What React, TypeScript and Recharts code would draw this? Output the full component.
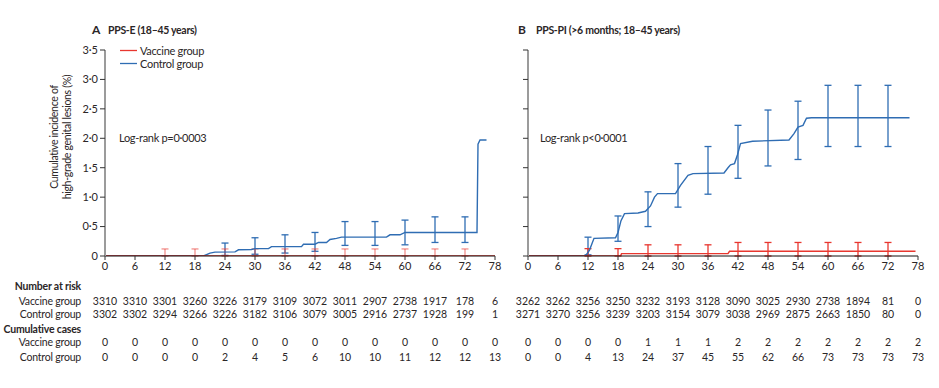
import { ComposedChart, Line, Scatter, ErrorBar, XAxis, YAxis } from 'recharts'

const monthTicks = [0, 6, 12, 18, 24, 30, 36, 42, 48, 54, 60, 66, 72, 78]
const yTicks = [0, 0.5, 1, 1.5, 2, 2.5, 3, 3.5]

const RED = '#e8372f'
const BLUE = '#2f6db3'
const INK = '#2b2627'

// Panel A curves (months, cumulative %)
const aVaccineCurve = [
  { m: 0, v: 0 },
  { m: 78, v: 0 },
]
const aControlCurve = [
  { m: 0, v: 0 }, { m: 19.7, v: 0 }, { m: 21, v: 0.05 }, { m: 22, v: 0.065 },
  { m: 26, v: 0.07 }, { m: 26.7, v: 0.105 }, { m: 29.3, v: 0.11 }, { m: 30, v: 0.125 },
  { m: 32.7, v: 0.125 }, { m: 33.3, v: 0.16 }, { m: 39.3, v: 0.16 }, { m: 39.7, v: 0.2 },
  { m: 42, v: 0.2 }, { m: 42.7, v: 0.23 }, { m: 44.3, v: 0.23 }, { m: 45, v: 0.28 },
  { m: 46.3, v: 0.3 }, { m: 47.3, v: 0.32 }, { m: 56.3, v: 0.32 }, { m: 57, v: 0.36 },
  { m: 59, v: 0.36 }, { m: 60, v: 0.4 }, { m: 74.4, v: 0.4 }, { m: 74.6, v: 1.9 },
  { m: 75, v: 1.97 }, { m: 76.3, v: 1.97 },
]

// Panel B curves
const bVaccineCurve = [
  { m: 0, v: 0 }, { m: 18.5, v: 0 }, { m: 18.7, v: 0.04 }, { m: 40, v: 0.04 },
  { m: 40.3, v: 0.08 }, { m: 77.5, v: 0.08 },
]
const bControlCurve = [
  { m: 0, v: 0 }, { m: 11.5, v: 0 }, { m: 12.3, v: 0.1 }, { m: 13.2, v: 0.3 },
  { m: 17.5, v: 0.31 }, { m: 18, v: 0.4 }, { m: 18.6, v: 0.6 }, { m: 19.3, v: 0.72 },
  { m: 22, v: 0.73 }, { m: 23.5, v: 0.76 }, { m: 24.5, v: 0.85 }, { m: 25.3, v: 1.0 },
  { m: 25.9, v: 1.06 }, { m: 29.5, v: 1.06 }, { m: 30.5, v: 1.2 }, { m: 32, v: 1.37 },
  { m: 33, v: 1.4 }, { m: 39.2, v: 1.41 }, { m: 40, v: 1.5 }, { m: 40.5, v: 1.55 },
  { m: 41.3, v: 1.57 }, { m: 41.9, v: 1.72 }, { m: 42.5, v: 1.91 }, { m: 44.9, v: 1.95 },
  { m: 52.2, v: 1.97 }, { m: 53.2, v: 2.08 }, { m: 54, v: 2.19 }, { m: 55, v: 2.22 },
  { m: 55.7, v: 2.34 }, { m: 56.7, v: 2.35 }, { m: 76.3, v: 2.35 },
]

// 95% CI bars
const aControlBarMonths = [24, 30, 36, 42, 48, 54, 60, 66, 72]
const aControlLo = [0.01, 0.03, 0.05, 0.08, 0.18, 0.18, 0.19, 0.23, 0.23]
const aControlHi = [0.22, 0.31, 0.36, 0.4, 0.585, 0.585, 0.61, 0.665, 0.665]
const aVaccineBarMonths = [12, 18, 24, 30, 36, 42, 48, 54, 60, 66, 72]
const aVaccineLo = [0, 0, 0, 0, 0, 0, 0, 0, 0, 0, 0]
const aVaccineHi = [0.12, 0.12, 0.12, 0.12, 0.12, 0.12, 0.12, 0.12, 0.12, 0.12, 0.12]

const bBarMonths = [12, 18, 24, 30, 36, 42, 48, 54, 60, 66, 72]
const bControlLo = [0.02, 0.25, 0.5, 0.83, 1.05, 1.32, 1.53, 1.64, 1.86, 1.86, 1.86]
const bControlHi = [0.32, 0.68, 1.09, 1.57, 1.86, 2.22, 2.48, 2.63, 2.9, 2.9, 2.9]
const bVaccineLo = [0, 0, 0, 0, 0, 0, 0, 0, 0, 0, 0]
const bVaccineHi = [0.125, 0.125, 0.19, 0.19, 0.19, 0.23, 0.23, 0.23, 0.23, 0.23, 0.23]

// Tables
const aRiskVaccine = [3310, 3310, 3301, 3260, 3226, 3179, 3109, 3072, 3011, 2907, 2738, 1917, 178, 6]
const aRiskControl = [3302, 3302, 3294, 3266, 3226, 3182, 3106, 3079, 3005, 2916, 2737, 1928, 199, 1]
const aCasesVaccine = [0, 0, 0, 0, 0, 0, 0, 0, 0, 0, 0, 0, 0, 0]
const aCasesControl = [0, 0, 0, 0, 2, 4, 5, 6, 10, 10, 11, 12, 12, 13]

const bRiskVaccine = [3262, 3262, 3256, 3250, 3232, 3193, 3128, 3090, 3025, 2930, 2738, 1894, 81, 0]
const bRiskControl = [3271, 3270, 3256, 3239, 3203, 3154, 3079, 3038, 2969, 2875, 2663, 1850, 80, 0]
const bCasesVaccine = [0, 0, 0, 0, 1, 1, 1, 2, 2, 2, 2, 2, 2, 2]
const bCasesControl = [0, 0, 4, 13, 24, 37, 45, 55, 62, 66, 73, 73, 73, 73]

const rowBaselines = [305, 318, 346, 361]

const toBars = (months: number[], lo: number[], hi: number[]) =>
  months.map((m, i) => ({ m, v: lo[i], err: [0, hi[i] - lo[i]] }))

const fmt = (v: number) => (v === 0 ? '0' : v.toFixed(1).replace('.', '·'))

function TableTick(props: any) {
  const { x, y, payload, rows } = props
  const i = monthTicks.indexOf(payload.value)
  return (
    <g fontFamily="Lato" fill={INK}>
      <text x={x} y={y} dy={8} textAnchor="middle" fontSize={11} fill={INK}>
        {payload.value}
      </text>
      {rows.map((r: number[], k: number) => (
        <text key={k} x={x} y={rowBaselines[k]} textAnchor="middle" fontSize={10.5} fill={INK}>
          {r[i]}
        </text>
      ))}
    </g>
  )
}

const Empty = () => <g />

interface PanelProps {
  left: number
  width: number
  yWidth: number
  showYLabels: boolean
  vaccine: { m: number; v: number }[]
  control: { m: number; v: number }[]
  vaccineBars: { m: number; v: number; err: number[] }[]
  controlBars: { m: number; v: number; err: number[] }[]
  rows: number[][]
  vaccineBarOpacity: number
}

function Panel(p: PanelProps) {
  return (
    <div style={{ position: 'absolute', left: p.left, top: 0 }}>
      <ComposedChart
        width={p.width}
        height={388}
        margin={{ top: 50, right: p.width - p.yWidth - 390, left: 0, bottom: 0 }}
      >
        <XAxis
          type="number"
          dataKey="m"
          domain={[0, 78]}
          ticks={monthTicks}
          interval={0}
          height={132}
          tickSize={4}
          tickMargin={2}
          axisLine={{ stroke: '#111', strokeWidth: 1 }}
          tickLine={{ stroke: '#333' }}
          tick={(t: any) => <TableTick {...t} rows={p.rows} />}
          allowDataOverflow
        />
        <YAxis
          type="number"
          domain={[0, 3.5]}
          ticks={yTicks}
          interval={0}
          width={p.yWidth}
          tickSize={5}
          tickMargin={2}
          axisLine={{ stroke: '#9b9b9b', strokeWidth: 2 }}
          tickLine={{ stroke: '#333' }}
          tick={{ fontSize: 11, fill: INK, fontFamily: 'Lato' }}
          tickFormatter={(v: number) => (p.showYLabels ? fmt(v) : '')}
          allowDataOverflow
        />
        <Scatter data={p.controlBars} dataKey="v" shape={Empty} isAnimationActive={false}>
          <ErrorBar dataKey="err" direction="y" width={3.5} stroke={BLUE} strokeWidth={1.3} />
        </Scatter>
        <Scatter data={p.vaccineBars} dataKey="v" shape={Empty} isAnimationActive={false}>
          <ErrorBar
            dataKey="err"
            direction="y"
            width={3.5}
            stroke={RED}
            strokeWidth={1.3}
            strokeOpacity={p.vaccineBarOpacity}
          />
        </Scatter>
        <Line
          data={p.control}
          dataKey="v"
          type="linear"
          stroke={BLUE}
          strokeWidth={1.4}
          dot={false}
          activeDot={false}
          isAnimationActive={false}
        />
        <Line
          data={p.vaccine}
          dataKey="v"
          type="linear"
          stroke={RED}
          strokeWidth={1.4}
          dot={false}
          activeDot={false}
          isAnimationActive={false}
        />
      </ComposedChart>
    </div>
  )
}

export default function App() {
  const txt = { fontFamily: 'Lato', fill: INK }
  return (
    <div
      style={{
        position: 'absolute',
        left: 0,
        top: 0,
        width: 939,
        height: 388,
        background: '#fff',
        fontFamily: 'Lato',
      }}
    >
      <Panel
        left={0}
        width={520}
        yWidth={105}
        showYLabels
        vaccine={aVaccineCurve}
        control={aControlCurve}
        vaccineBars={toBars(aVaccineBarMonths, aVaccineLo, aVaccineHi)}
        controlBars={toBars(aControlBarMonths, aControlLo, aControlHi)}
        rows={[aRiskVaccine, aRiskControl, aCasesVaccine, aCasesControl]}
        vaccineBarOpacity={0.55}
      />
      <Panel
        left={440}
        width={499}
        yWidth={88}
        showYLabels={false}
        vaccine={bVaccineCurve}
        control={bControlCurve}
        vaccineBars={toBars(bBarMonths, bVaccineLo, bVaccineHi)}
        controlBars={toBars(bBarMonths, bControlLo, bControlHi)}
        rows={[bRiskVaccine, bRiskControl, bCasesVaccine, bCasesControl]}
        vaccineBarOpacity={1}
      />
      <svg
        width={939}
        height={388}
        style={{ position: 'absolute', left: 0, top: 0, pointerEvents: 'none' }}
      >
        <g {...txt}>
          <text x={92} y={34} fontSize={12} fontWeight={700}>A</text>
          <text x={108} y={34} fontSize={10.5} fontWeight={700} letterSpacing={-0.3}>
            PPS-E (18–45 years)
          </text>
          <text x={518} y={34} fontSize={12} fontWeight={700}>B</text>
          <text x={536} y={34} fontSize={10.5} fontWeight={700} letterSpacing={-0.3}>
            PPS-PI (&gt;6 months; 18–45 years)
          </text>

          <line x1={120} x2={137} y1={50.5} y2={50.5} stroke={RED} strokeWidth={1.3} />
          <line x1={120} x2={137} y1={63.5} y2={63.5} stroke={BLUE} strokeWidth={1.3} />
          <text x={140} y={54.5} fontSize={11} letterSpacing={-0.3}>Vaccine group</text>
          <text x={140} y={67.5} fontSize={11} letterSpacing={-0.3}>Control group</text>

          <text x={119} y={142} fontSize={11} letterSpacing={-0.3}>Log-rank p=0·0003</text>
          <text x={540} y={142} fontSize={11} letterSpacing={-0.3}>Log-rank p&lt;0·0001</text>

          <text
            transform="translate(58,137) rotate(-90)"
            textAnchor="middle"
            fontSize={10.5}
            letterSpacing={-0.3}
          >
            Cumulative incidence of
          </text>
          <text
            transform="translate(71,137) rotate(-90)"
            textAnchor="middle"
            fontSize={10.5}
            letterSpacing={-0.3}
          >
            high-grade genital lesions (%)
          </text>

          <g textAnchor="end" fontSize={10.5} letterSpacing={-0.2}>
            <text x={81} y={290} fontWeight={700}>Number at risk</text>
            <text x={81} y={rowBaselines[0]}>Vaccine group</text>
            <text x={81} y={rowBaselines[1]}>Control group</text>
            <text x={81} y={333} fontWeight={700}>Cumulative cases</text>
            <text x={81} y={rowBaselines[2]}>Vaccine group</text>
            <text x={81} y={rowBaselines[3]}>Control group</text>
          </g>
        </g>
      </svg>
    </div>
  )
}
